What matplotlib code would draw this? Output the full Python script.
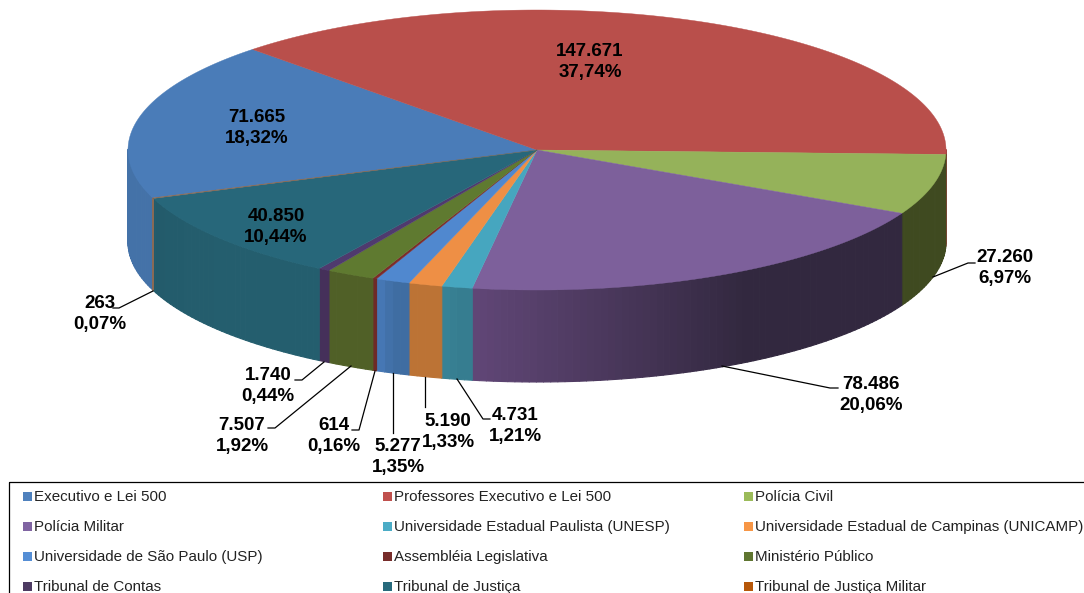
import numpy as np
import matplotlib
matplotlib.use('Agg')
import matplotlib.pyplot as plt
from matplotlib.collections import PolyCollection
from matplotlib.colors import to_rgb
from matplotlib.patches import Polygon, Rectangle

plt.rcParams['font.family'] = ['Liberation Sans', 'DejaVu Sans']

# data
categories = ['Executivo e Lei 500', 'Professores Executivo e Lei 500', 'Polícia Civil',
              'Polícia Militar', 'Universidade Estadual Paulista (UNESP)',
              'Universidade Estadual de Campinas (UNICAMP)',
              'Universidade de São Paulo (USP)', 'Assembléia Legislativa', 'Ministério Público',
              'Tribunal de Contas', 'Tribunal de Justiça', 'Tribunal de Justiça Militar']
values = [71665, 147671, 27260, 78486, 4731, 5190, 5277, 614, 7507, 1740, 40850, 263]

# colours
top_colors = ['#4A7CB8', '#B94F4B', '#95B25A', '#7D609B', '#46A6BF', '#EE8F45',
              '#5088CF', '#7D2B2A', '#5F7A30', '#4F3A6E', '#27677A', '#8A6A55']
# wall colours, right end and left end of each slice
side_right = ['#4472A8', '#A04440', '#3F4A20', '#32283F', '#367D90', '#BC7335',
              '#3F6DA2', '#6E2A28', '#506027', '#45305A', '#245E6E', '#8A6A55']
side_left = ['#4A78AE', '#A04440', '#3F4A20', '#604676', '#388295', '#BC7335',
             '#4677B4', '#6E2A28', '#506027', '#45305A', '#235B6B', '#8A6A55']
legend_colors = ['#4F81BD', '#C0504D', '#9BBB59', '#8064A2', '#4BACC6', '#F79646',
                 '#558ED5', '#772C2A', '#5F7530', '#4D3B62', '#276A7C', '#B65708']

# geometry of the pie
cx, cy = 537, 150
rx, ry = 409, 140
depth = 92
start_angle = 200

fig = plt.figure(figsize=(10.84, 5.93), dpi=100)
ax = fig.add_axes([0, 0, 1, 1])
ax.set_xlim(0, 1084)
ax.set_ylim(593, 0)
ax.axis('off')


def ellipse_pt(t):
    return cx + rx * np.cos(np.radians(t)), cy - ry * np.sin(np.radians(t))


total = sum(values)
spans = [v / total * 360 for v in values]
bounds = start_angle - np.concatenate([[0], np.cumsum(spans)])

# outer wall, cut into small quads so that it can be shaded
quads, quad_colors = [], []
for i in range(len(values)):
    a0, a1 = bounds[i], bounds[i + 1]
    n = max(int(a0 - a1), 1)
    ts = np.linspace(a0, a1, n + 1)
    c0, c1 = np.array(to_rgb(side_right[i])), np.array(to_rgb(side_left[i]))
    for j in range(n):
        t0, t1 = ts[j], ts[j + 1]
        if np.sin(np.radians((t0 + t1) / 2)) > 0:
            continue
        x0, y0 = ellipse_pt(t0)
        x1, y1 = ellipse_pt(t1)
        quads.append([(x0, y0), (x1, y1), (x1, y1 + depth), (x0, y0 + depth)])
        # stays at the dark end for the first part of the slice
        frac = np.clip((j / max(n - 1, 1) - 0.45) / 0.55, 0, 1)
        quad_colors.append(c0 + (c1 - c0) * frac)
ax.add_collection(PolyCollection(quads, facecolors=quad_colors, edgecolors=quad_colors,
                                 linewidths=0.8))

# top face
for i in range(len(values)):
    ts = np.linspace(bounds[i], bounds[i + 1], max(int(spans[i] * 2), 2))
    xs, ys = ellipse_pt(ts)
    pts = np.column_stack([np.r_[cx, xs], np.r_[cy, ys]])
    ax.add_patch(Polygon(pts, closed=True, facecolor=top_colors[i], edgecolor=top_colors[i],
                         linewidth=0.3, zorder=3))

# labels (x, baseline y of the first text line) and leader lines
label_pos = [(257, 121.5), (590, 55.5), (1005, 262.5), (871, 389), (515, 420), (448, 426),
             (398, 451), (334, 430), (242, 430), (268, 380), (276, 221), (100, 308)]
leaders = {2: [(933, 277), (968, 263), (975, 263)],
           3: [(722, 366), (830, 388), (838, 388)],
           4: [(457, 379), (483, 419), (490, 419)],
           5: [(425, 377), (425, 407)],
           6: [(392.5, 373), (392.5, 433)],
           7: [(375, 371), (359, 430), (352, 430)],
           8: [(351, 366), (275, 428), (268, 428)],
           9: [(324, 362), (302, 380), (295, 380)],
           11: [(153, 291), (119, 308), (113, 308)]}

for i, (x, y) in enumerate(label_pos):
    num = f'{values[i]:,}'.replace(',', '.')
    pct = f'{values[i] / total * 100:.2f}%'.replace('.', ',')
    ax.text(x, y, num, ha='center', va='baseline', fontsize=13.5, fontweight='bold',
            color='black', zorder=6)
    ax.text(x, y + 21, pct, ha='center', va='baseline', fontsize=13.5, fontweight='bold',
            color='black', zorder=6)
for pts in leaders.values():
    xs, ys = zip(*pts)
    ax.plot(xs, ys, color='black', lw=0.9, zorder=5)

# legend
ax.add_patch(Rectangle((8.5, 481.5), 1090, 130, fill=False, edgecolor='black', lw=0.9,
                       clip_on=True, zorder=4))
col_x = [28, 388, 749]
row_y = [496.5, 526.5, 556.5, 586.5]
for i, name in enumerate(categories):
    x = col_x[i % 3]
    y = row_y[i // 3]
    ax.add_patch(Rectangle((x - 5, y - 4.5), 8.5, 8.5, facecolor=legend_colors[i], edgecolor='none',
                           zorder=4))
    ax.text(x + 6, y + 4.5, name, ha='left', va='baseline', fontsize=10.9, color='#222222', zorder=5)

fig.savefig('out.png', dpi=100)
